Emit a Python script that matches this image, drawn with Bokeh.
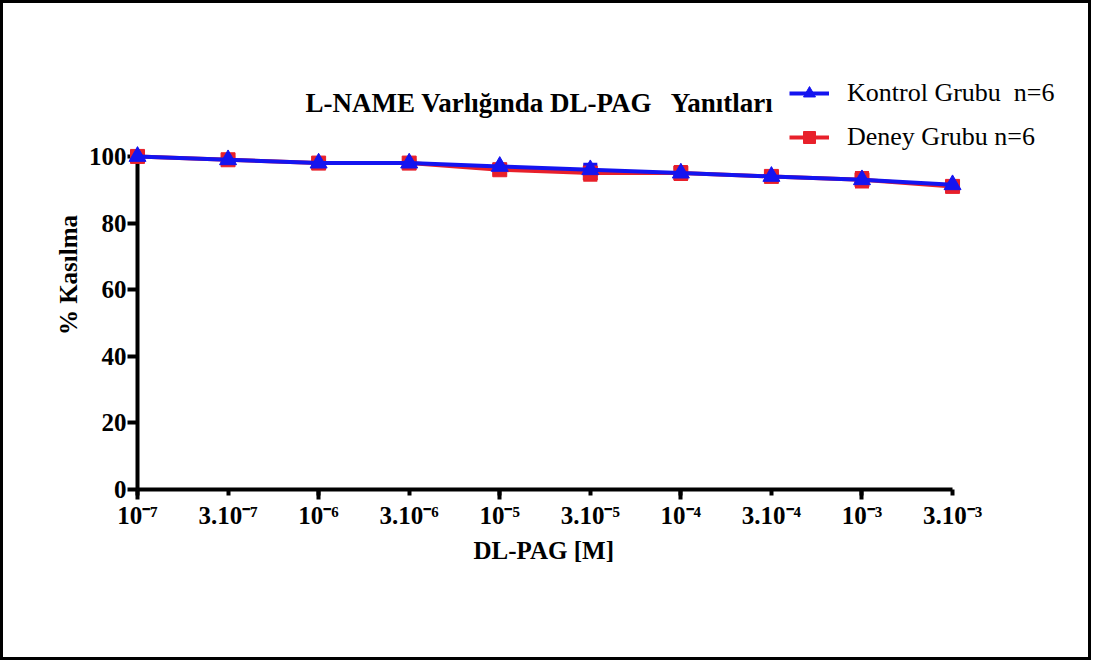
from bokeh.plotting import figure
from bokeh.models import (ColumnDataSource, LinearAxis, FixedTicker, Range1d,
                          Legend, LegendItem, Label, Title, Whisker, TeeHead)
from bokeh.embed import file_html
from bokeh.resources import INLINE

# ---- data ----
tick_labels = ["10\u207b\u2077", "3.10\u207b\u2077", "10\u207b\u2076", "3.10\u207b\u2076",
               "10\u207b\u2075", "3.10\u207b\u2075", "10\u207b\u2074", "3.10\u207b\u2074",
               "10\u207b\u00b3", "3.10\u207b\u00b3"]
dose_index = [0, 1, 2, 3, 4, 5, 6, 7, 8, 9]
kontrol = [100, 99, 98, 98, 97, 96, 95, 94, 93, 91.5]
kontrol_err = [0.3, 0.5, 0.5, 0.5, 0.5, 1.5, 1.5, 0.5, 0.8, 0.5]
deney = [100, 99, 98, 98, 96, 95, 95, 94, 93, 91]
deney_err = [0.5, 0.5, 0.5, 0.8, 1.0, 2.0, 1.8, 0.8, 2.0, 0.8]
y_ticks = [0, 20, 40, 60, 80, 100]
title_text = "L-NAME Varlığında DL-PAG\u00a0\u00a0 Yanıtları"
x_title = "DL-PAG [M]"
y_title = "% Kasılma"
legend_labels = ["Kontrol Grubu\u00a0 n=6", "Deney Grubu n=6"]

SERIF = "Liberation Serif"
BLUE = "#1414f0"
RED = "#e8202a"

src_k = ColumnDataSource(dict(x=dose_index, y=kontrol,
                              lo=[a - b for a, b in zip(kontrol, kontrol_err)],
                              hi=[a + b for a, b in zip(kontrol, kontrol_err)]))
src_d = ColumnDataSource(dict(x=dose_index, y=deney,
                              lo=[a - b for a, b in zip(deney, deney_err)],
                              hi=[a + b for a, b in zip(deney, deney_err)]))

p = figure(width=1091, height=660, output_backend="svg", toolbar_location=None,
           x_range=Range1d(0, 10.413), y_range=Range1d(0, 128.8),
           x_axis_type=None, y_axis_type=None,
           min_border_left=134, min_border_right=14, min_border_top=57, min_border_bottom=174)
p.styles = {"border": "3px solid black"}
p.grid.visible = False
p.outline_line_color = None
p.background_fill_color = "white"
p.border_fill_color = "white"

# axes
xaxis = LinearAxis(ticker=FixedTicker(ticks=dose_index, minor_ticks=[0, 2, 4, 6, 8]),
                   bounds=(0, 9))
xaxis.major_label_overrides = {i: t for i, t in zip(dose_index, tick_labels)}
yaxis = LinearAxis(ticker=FixedTicker(ticks=y_ticks), bounds=(0, 100),
                   axis_label=y_title)
for ax in (xaxis, yaxis):
    ax.axis_line_width = 4
    ax.axis_line_color = "black"
    ax.major_tick_line_width = 4
    ax.major_tick_line_color = "black"
    ax.minor_tick_line_width = 4
    ax.minor_tick_line_color = "black"
    ax.major_tick_in = 0
    ax.minor_tick_in = 0
    ax.major_label_text_font = SERIF
    ax.major_label_text_font_style = "bold"
    ax.major_label_text_font_size = "25px"
    ax.major_label_text_color = "black"
    ax.axis_label_text_font = SERIF
    ax.axis_label_text_font_style = "bold"
    ax.axis_label_text_font_size = "25px"
    ax.axis_label_text_color = "black"
xaxis.major_tick_out = 6
xaxis.minor_tick_out = 10
xaxis.major_label_standoff = 2
yaxis.major_tick_out = 10
yaxis.minor_tick_out = 0
yaxis.major_label_standoff = 1
yaxis.axis_label_standoff = 4
p.add_layout(xaxis, "below")
p.add_layout(yaxis, "left")

# x-axis title, centred under the axis span (0..9), placed below the tick labels
p.add_layout(Title(text=x_title, align="left", offset=336, standoff=6,
                   text_font=SERIF, text_font_style="bold", text_font_size="25px",
                   text_color="black"), "below")

# deney (red) first, kontrol (blue) on top
wd = Whisker(source=src_d, base="x", upper="hi", lower="lo", line_color=RED, line_width=3,
             upper_head=TeeHead(size=14, line_color=RED, line_width=4),
             lower_head=TeeHead(size=14, line_color=RED, line_width=4))
p.add_layout(wd)
ld = p.line("x", "y", source=src_d, line_color=RED, line_width=4, level="overlay")
sd = p.scatter("x", "y", source=src_d, marker="square", size=14, fill_color=RED,
               line_color=RED, level="overlay")

wk = Whisker(source=src_k, base="x", upper="hi", lower="lo", line_color=BLUE, line_width=3,
             upper_head=TeeHead(size=14, line_color=BLUE, line_width=4),
             lower_head=TeeHead(size=14, line_color=BLUE, line_width=4))
p.add_layout(wk)
lk = p.line("x", "y", source=src_k, line_color=BLUE, line_width=4, level="overlay")
sk = p.scatter("x", "y", source=src_k, marker="triangle", size=17, fill_color=BLUE,
               line_color=BLUE, level="overlay")

legend = Legend(items=[LegendItem(label=legend_labels[0], renderers=[lk, sk]),
                       LegendItem(label=legend_labels[1], renderers=[ld, sd])],
                location=(652, 337), padding=0, margin=0, spacing=14,
                glyph_width=40, glyph_height=30, label_height=30, label_standoff=18,
                label_text_font=SERIF, label_text_font_size="26px", label_text_color="black",
                border_line_color=None, background_fill_alpha=0)
p.add_layout(legend, "center")

p.add_layout(Label(x=1.855, y=116.0, text=title_text, text_font=SERIF, text_font_style="bold",
                   text_font_size="27px", text_color="black", text_baseline="alphabetic"))

open("out.html", "w").write(file_html(p, INLINE))
